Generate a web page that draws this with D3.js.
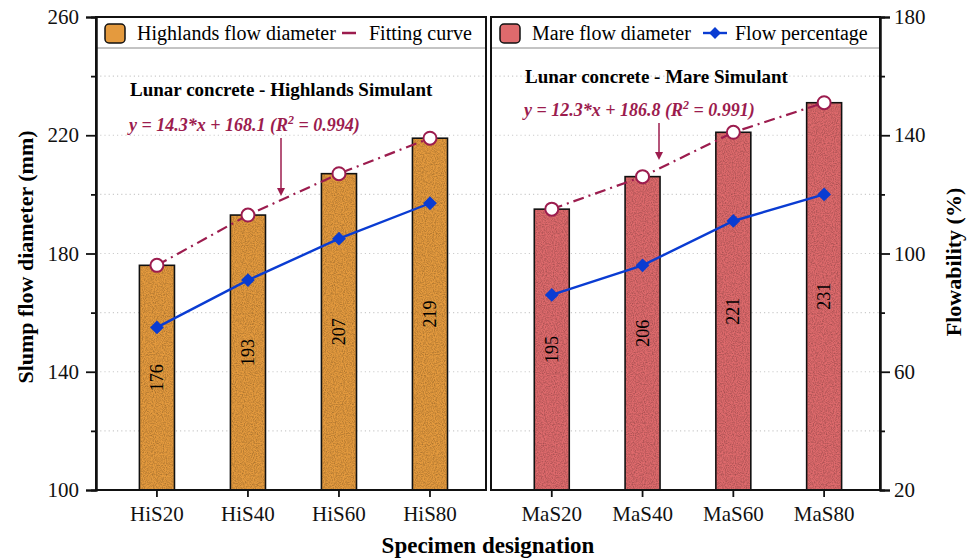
<!DOCTYPE html>
<html>
<head>
<meta charset="utf-8">
<script src="https://cdn.jsdelivr.net/npm/d3@7"></script>
<style>
  body { margin: 0; background: #fff; }
  svg text { font-family: "Liberation Serif", "Times New Roman", serif; }
</style>
</head>
<body>
<div id="chart"></div>
<script>
// data
const hiCats = ["HiS20", "HiS40", "HiS60", "HiS80"];
const maCats = ["MaS20", "MaS40", "MaS60", "MaS80"];
const hiDiameter = [176, 193, 207, 219];
const maDiameter = [195, 206, 221, 231];
const hiFlow = [75, 91, 105, 117];
const maFlow = [86, 96, 111, 120];
const leftTicks = [100, 140, 180, 220, 260];
const leftMinor = [120, 160, 200, 240];
const rightTicks = [20, 60, 100, 140, 180];
const rightMinor = [40, 80, 120, 160];

const W = 968, H = 560;
const plotTop = 17, plotBottom = 490;
const fitColor = "#9c1c4e", blue = "#0a3cd2";

const svg = d3.select('#chart').append('svg')
    .attr('width', W).attr('height', H);

// grain texture for the bars
let defs = svg.append('defs');
let grain = defs.append('filter').attr('id', 'grain')
    .attr('x', 0).attr('y', 0).attr('width', 1).attr('height', 1);
grain.append('feTurbulence').attr('type', 'fractalNoise')
    .attr('baseFrequency', 0.9).attr('numOctaves', 2).attr('seed', 3).attr('result', 'n');
grain.append('feColorMatrix').attr('in', 'n').attr('type', 'matrix')
    .attr('values', '0 0 0 0 0  0 0 0 0 0  0 0 0 0 0  0.5 0 0 0 -0.18').attr('result', 'a');
grain.append('feComposite').attr('in', 'a').attr('in2', 'SourceGraphic').attr('operator', 'in');

let y = d3.scaleLinear().domain([100, 260]).range([plotBottom, plotTop]);
let y2 = d3.scaleLinear().domain([20, 180]).range([plotBottom, plotTop]);

// square turned 45 degrees, like the markers in the figure
let diamond = d3.symbol(d3.symbolSquare, 95);

let panels = [
    { x0: 96, x1: 486, cats: hiCats, dia: hiDiameter, flow: hiFlow, fill: "#e49a3e",
      title: "Lunar concrete - Highlands Simulant", titleY: 96,
      eq: ["y = 14.3*x + 168.1 (R", " = 0.994)"], eqY: 131, arrowX: 281, arrowY: [138, 196],
      legend: "Highlands flow diameter", legend2: "Fitting curve", legendLine: "fit" },
    { x0: 491, x1: 880, cats: maCats, dia: maDiameter, flow: maFlow, fill: "#de6a6c",
      title: "Lunar concrete - Mare Simulant", titleY: 83,
      eq: ["y = 12.3*x + 186.8 (R", " = 0.991)"], eqY: 116, arrowX: 659, arrowY: [123, 160],
      legend: "Mare flow diameter", legend2: "Flow percentage", legendLine: "flow" }
];

panels.forEach(p => {
    let g = svg.append('g');
    let x = d3.scaleBand().domain(p.cats).range([p.x0, p.x1])
        .paddingInner(0.615).paddingOuter(0.45).align(0.53);
    let cx = (d, i) => x(p.cats[i]) + x.bandwidth() / 2;

    // dotted grid
    g.selectAll('.grid').data(leftMinor.concat([140, 180, 220]))
        .enter().append('line')
        .attr('x1', p.x0).attr('x2', p.x1)
        .attr('y1', d => y(d)).attr('y2', d => y(d))
        .attr('stroke', '#cccccc').attr('stroke-width', 1.2)
        .attr('stroke-dasharray', '1.2,3');

    // bars
    let bars = g.selectAll('.bar').data(p.dia).enter();
    bars.append('rect')
        .attr('x', (d, i) => x(p.cats[i])).attr('width', x.bandwidth())
        .attr('y', d => y(d)).attr('height', d => plotBottom - y(d))
        .attr('fill', p.fill).attr('stroke', '#111').attr('stroke-width', 1.6);
    bars.append('rect')
        .attr('x', (d, i) => x(p.cats[i]) + 1).attr('width', x.bandwidth() - 2)
        .attr('y', d => y(d) + 1).attr('height', d => plotBottom - y(d) - 2)
        .attr('fill', '#000').attr('filter', 'url(#grain)');

    // values inside bars
    g.selectAll('.val').data(p.dia).enter().append('text')
        .attr('transform', (d, i) => `translate(${cx(d, i) + 6},${(y(d) + plotBottom) / 2}) rotate(-90)`)
        .attr('text-anchor', 'middle')
        .style('font-size', '18px').text(d => d);

    // fitting curve through the bar tops
    let fit = d3.line().x(cx).y(d => y(d));
    g.append('path').datum(p.dia).attr('d', fit)
        .attr('fill', 'none').attr('stroke', fitColor).attr('stroke-width', 2.2)
        .attr('stroke-dasharray', '11,5,2,5');
    g.selectAll('.circ').data(p.dia).enter().append('circle')
        .attr('cx', cx).attr('cy', d => y(d)).attr('r', 6.5)
        .attr('fill', '#fff').attr('stroke', fitColor).attr('stroke-width', 2);

    // flow percentage
    let fl = d3.line().x(cx).y(d => y2(d));
    g.append('path').datum(p.flow).attr('d', fl)
        .attr('fill', 'none').attr('stroke', blue).attr('stroke-width', 2.4);
    g.selectAll('.dia').data(p.flow).enter().append('path')
        .attr('d', diamond)
        .attr('transform', (d, i) => `translate(${cx(d, i)},${y2(d)}) rotate(45)`)
        .attr('fill', blue);

    // annotations
    g.append('text').attr('x', p.x0 + 34).attr('y', p.titleY)
        .style('font-size', '19px').style('font-weight', 'bold').text(p.title);
    let eq = g.append('text').attr('x', p.x0 + 33).attr('y', p.eqY)
        .attr('fill', fitColor).style('font-size', '18px')
        .style('font-weight', 'bold').style('font-style', 'italic');
    eq.append('tspan').text(p.eq[0]);
    eq.append('tspan').attr('dy', -7).style('font-size', '12px').text('2');
    eq.append('tspan').attr('dy', 7).text(p.eq[1]);
    g.append('line').attr('x1', p.arrowX).attr('x2', p.arrowX)
        .attr('y1', p.arrowY[0]).attr('y2', p.arrowY[1] - 6)
        .attr('stroke', fitColor).attr('stroke-width', 1.5);
    g.append('path')
        .attr('d', `M${p.arrowX - 4},${p.arrowY[1] - 8}L${p.arrowX + 4},${p.arrowY[1] - 8}L${p.arrowX},${p.arrowY[1]}Z`)
        .attr('fill', fitColor);

    // legend strip
    g.append('rect').attr('x', p.x0).attr('y', plotTop).attr('width', p.x1 - p.x0).attr('height', 31)
        .attr('fill', '#fff');
    g.append('line').attr('x1', p.x0).attr('x2', p.x1).attr('y1', 48).attr('y2', 48)
        .attr('stroke', '#888').attr('stroke-width', 1);
    g.append('rect').attr('x', p.x0 + 9).attr('y', 24).attr('width', 20).attr('height', 19).attr('rx', 4)
        .attr('fill', p.fill).attr('stroke', '#111').attr('stroke-width', 1.5);
    g.append('text').attr('x', p.x0 + 41).attr('y', 40).style('font-size', '20px').text(p.legend);
    if (p.legendLine === 'fit') {
        g.append('line').attr('x1', p.x0 + 246).attr('x2', p.x0 + 260).attr('y1', 33).attr('y2', 33)
            .attr('stroke', fitColor).attr('stroke-width', 2.5);
        g.append('text').attr('x', p.x0 + 273).attr('y', 40).style('font-size', '20px').text(p.legend2);
    } else {
        g.append('line').attr('x1', p.x0 + 212).attr('x2', p.x0 + 236).attr('y1', 33).attr('y2', 33)
            .attr('stroke', blue).attr('stroke-width', 2.4);
        g.append('path').attr('d', d3.symbol(d3.symbolSquare, 70))
            .attr('transform', `translate(${p.x0 + 224},33) rotate(45)`).attr('fill', blue);
        g.append('text').attr('x', p.x0 + 244).attr('y', 40).style('font-size', '20px').text(p.legend2);
    }

    // frame
    g.append('rect').attr('x', p.x0).attr('y', plotTop).attr('width', p.x1 - p.x0).attr('height', plotBottom - plotTop)
        .attr('fill', 'none').attr('stroke', '#111').attr('stroke-width', 2);

    // bottom axis
    let xa = svg.append('g').attr('transform', `translate(0,${plotBottom})`)
        .call(d3.axisBottom(x).tickSize(7).tickPadding(9));
    xa.select('.domain').remove();
    xa.selectAll('line').attr('stroke', '#111').attr('stroke-width', 1.8);
    xa.selectAll('text').style('font-size', '21px').attr('fill', '#111')
        .style('font-family', '"Liberation Serif", serif');
});

// left axis
let la = svg.append('g').attr('transform', 'translate(96,0)')
    .call(d3.axisLeft(y).tickValues(leftTicks).tickSize(10).tickPadding(7));
let lm = svg.append('g').attr('transform', 'translate(96,0)')
    .call(d3.axisLeft(y).tickValues(leftMinor).tickSize(5).tickFormat(''));
// right axis
let ra = svg.append('g').attr('transform', 'translate(880,0)')
    .call(d3.axisRight(y2).tickValues(rightTicks).tickSize(10).tickPadding(4));
let rm = svg.append('g').attr('transform', 'translate(880,0)')
    .call(d3.axisRight(y2).tickValues(rightMinor).tickSize(5).tickFormat(''));
[la, lm, ra, rm].forEach(a => {
    a.select('.domain').attr('stroke', '#111').attr('stroke-width', 2);
    a.selectAll('line').attr('stroke', '#111').attr('stroke-width', 1.8);
    a.selectAll('text').style('font-size', '21px').attr('fill', '#111')
        .style('font-family', '"Liberation Serif", serif');
});

// axis titles
svg.append('text').attr('transform', 'translate(33,257) rotate(-90)')
    .attr('text-anchor', 'middle').style('font-size', '22px').style('font-weight', 'bold')
    .text('Slump flow diameter (mm)');
svg.append('text').attr('transform', 'translate(961,262) rotate(-90)')
    .attr('text-anchor', 'middle').style('font-size', '22px').style('font-weight', 'bold')
    .text('Flowability (%)');
svg.append('text').attr('x', 488).attr('y', 553)
    .attr('text-anchor', 'middle').style('font-size', '23px').style('font-weight', 'bold')
    .text('Specimen designation');
</script>
</body>
</html>
